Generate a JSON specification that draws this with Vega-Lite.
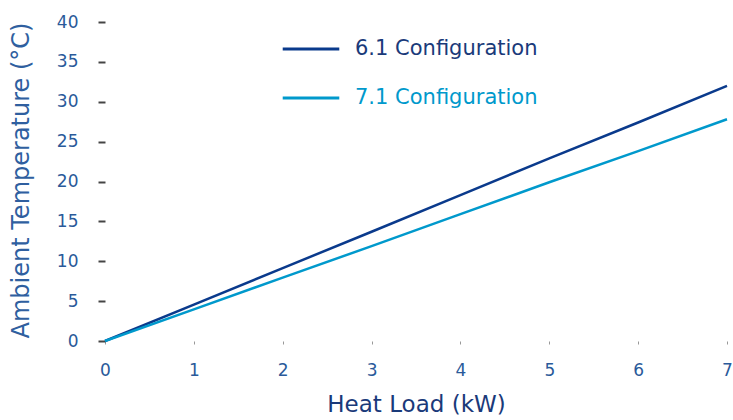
{
  "$schema": "https://vega.github.io/schema/vega-lite/v6.json",
  "width": 622,
  "height": 319,
  "autosize": {"type": "none"},
  "padding": {"left": 105, "top": 22, "right": 6, "bottom": 79},
  "background": "white",
  "config": {
    "view": {"stroke": null},
    "font": "DejaVu Sans"
  },
  "data": {
    "values": [
      {"load": 0, "temp": 0, "series": "6.1 Configuration"},
      {"load": 1, "temp": 4.57, "series": "6.1 Configuration"},
      {"load": 2, "temp": 9.14, "series": "6.1 Configuration"},
      {"load": 3, "temp": 13.7, "series": "6.1 Configuration"},
      {"load": 4, "temp": 18.3, "series": "6.1 Configuration"},
      {"load": 5, "temp": 22.9, "series": "6.1 Configuration"},
      {"load": 6, "temp": 27.4, "series": "6.1 Configuration"},
      {"load": 7, "temp": 32.0, "series": "6.1 Configuration"},
      {"load": 0, "temp": 0, "series": "7.1 Configuration"},
      {"load": 1, "temp": 3.97, "series": "7.1 Configuration"},
      {"load": 2, "temp": 7.94, "series": "7.1 Configuration"},
      {"load": 3, "temp": 11.9, "series": "7.1 Configuration"},
      {"load": 4, "temp": 15.9, "series": "7.1 Configuration"},
      {"load": 5, "temp": 19.9, "series": "7.1 Configuration"},
      {"load": 6, "temp": 23.8, "series": "7.1 Configuration"},
      {"load": 7, "temp": 27.8, "series": "7.1 Configuration"}
    ]
  },
  "mark": {"type": "line", "strokeWidth": 2.5},
  "encoding": {
    "x": {
      "field": "load",
      "type": "quantitative",
      "scale": {"domain": [0, 7], "nice": false},
      "axis": {
        "title": "Heat Load (kW)",
        "values": [0, 1, 2, 3, 4, 5, 6, 7],
        "format": "d",
        "grid": false,
        "domain": false,
        "ticks": true,
        "tickSize": 3,
        "tickColor": "#999999",
        "labelFontSize": 17,
        "labelColor": "#2a5a9a",
        "labelPadding": 18,
        "labelFlush": false,
        "titleFontSize": 23,
        "titleFontWeight": "normal",
        "titleColor": "#1a3a7a",
        "titlePadding": 15
      }
    },
    "y": {
      "field": "temp",
      "type": "quantitative",
      "scale": {"domain": [0, 40], "nice": false},
      "axis": {
        "title": "Ambient Temperature (°C)",
        "values": [0, 5, 10, 15, 20, 25, 30, 35, 40],
        "grid": false,
        "domain": false,
        "tickSize": 7,
        "tickColor": "#444444",
        "tickWidth": 2,
        "labelFontSize": 17,
        "labelColor": "#2a5a9a",
        "labelPadding": 20,
        "titleFontSize": 24,
        "titleFontWeight": "normal",
        "titleColor": "#2f5f9f",
        "titleX": -72,
        "titleY": 158
      }
    },
    "color": {
      "field": "series",
      "type": "nominal",
      "scale": {
        "domain": ["6.1 Configuration", "7.1 Configuration"],
        "range": ["#0a3a8c", "#0099cc"]
      },
      "legend": {
        "title": null,
        "orient": "none",
        "legendX": 176,
        "legendY": -3,
        "symbolType": "stroke",
        "symbolSize": 3200,
        "symbolStrokeWidth": 3,
        "labelFontSize": 21,
        "labelOffset": 14,
        "rowPadding": 9,
        "labelLimit": 400,
        "encode": {
          "labels": {
            "update": {
              "fill": {"signal": "datum.value == '6.1 Configuration' ? '#1a3a7a' : '#0099cc'"}
            }
          }
        }
      }
    }
  }
}
